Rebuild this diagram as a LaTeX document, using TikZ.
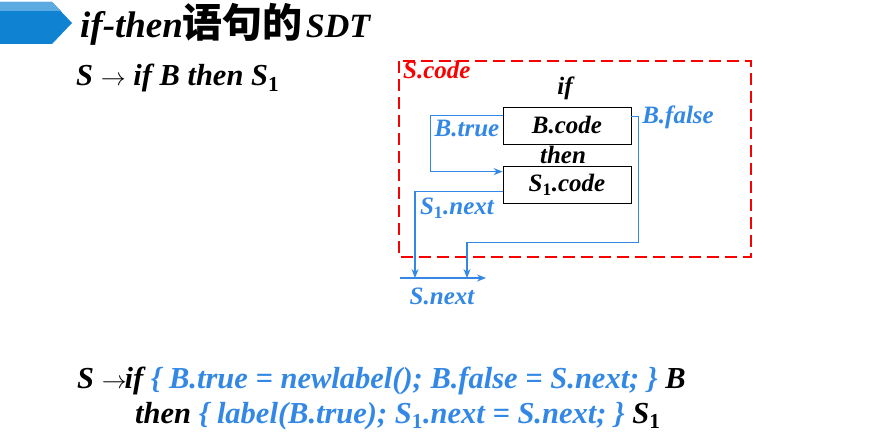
\documentclass[tikz,border=0pt]{standalone}
\usepackage{fontspec}
\setmainfont{Liberation Serif}
\newfontfamily\cjk{Noto Sans CJK SC}
\usetikzlibrary{arrows.meta, calc}
\definecolor{sdtblue}{RGB}{51, 136, 230}
\definecolor{sdtred}{RGB}{250, 0, 0}
\definecolor{bannerdark}{RGB}{16, 130, 210}
\definecolor{bannerlight}{RGB}{92, 170, 226}
\newcommand{\one}{\textsubscript{\upshape 1}}

\begin{document}
\begin{tikzpicture}[x=1pt, y=-1pt,
  rulefont/.style={font=\fontsize{30.5}{34}\selectfont\bfseries\itshape, inner sep=0pt, anchor=base west},
  codebox/.style={draw=black, line width=0.8pt, minimum width=128pt, minimum height=37pt, inner sep=0pt, font=\fontsize{25}{28}\selectfont\bfseries\itshape},
  kw/.style={font=\fontsize{25}{28}\selectfont\bfseries\itshape, inner sep=0pt},
  attr/.style={font=\fontsize{25}{28}\selectfont\bfseries\itshape, text=sdtblue, inner sep=0pt},
  flow/.style={draw=sdtblue, line width=1.3pt, -{Stealth[length=9pt, width=7pt]}}]
  \useasboundingbox (0,0) rectangle (890,441);

  % Title banner
  \fill[bannerdark] (0,2) -- (52,2) -- (72,23) -- (52,44) -- (0,44) -- cycle;
  \fill[bannerlight] (0,2) -- (52,2) -- (61,11) -- (0,11) -- cycle;
  \node[font=\fontsize{37}{42}\selectfont\bfseries\itshape, inner sep=0pt, anchor=base west] (title) at (80,38)
    {if-then{\cjk\upshape\fontsize{40}{42}\selectfont 语句的}\kern3pt{\fontsize{34}{42}\selectfont SDT}};

  % Production
  \node[rulefont] (prod) at (76,86) {S $\rightarrow$ if B then S\one};

  % S.code frame
  \draw[sdtred, line width=2pt, dash pattern=on 12pt off 6pt] (399,61) rectangle (751,257);
  \node[kw, text=sdtred, anchor=base west] (scodelbl) at (403,79) {S.code};

  % Code blocks
  \node[kw] (if) at (565,88) {if};
  \node[codebox] (bcode) at (567,125.5) {B.code};
  \node[kw] (then) at (563,155) {then};
  \node[codebox] (s1code) at (567,184.5) {S\one.code};

  % Exit line
  \coordinate (nextL) at (400,278);
  \coordinate (nextR) at (486,278);
  \coordinate (s1in) at (415,278);
  \coordinate (falsein) at (467,278);

  % Jumps
  \draw[flow] ([yshift=-9pt]bcode.north west) -- ++(-72,0) |- ([yshift=-6pt]s1code.north west);
  \draw[flow] ([yshift=-10pt]bcode.north east) -- ++(7,0) -- ++(0,126) -| (falsein);
  \draw[flow] ([yshift=-26pt]s1code.north west) -| (s1in);
  \draw[flow] (nextL) -- (nextR);

  % Attribute labels
  \node[attr] (btrue) at (467,128) {B.true};
  \node[attr] (bfalse) at (678,117) {B.false};
  \node[attr] (s1next) at (457,208) {S\one.next};
  \node[attr] (snext) at (442,296) {S.next};

  % Translation scheme
  \node[rulefont] (sdt1) at (77,388)
    {S $\rightarrow$\kern-2pt if \textcolor{sdtblue}{\{ B.true = newlabel(); B.false = S.next; \}} B};
  \node[rulefont] (sdt2) at (135,423)
    {then \textcolor{sdtblue}{\{ label(B.true); S\one.next = S.next; \}} S\one};
\end{tikzpicture}
\end{document}
